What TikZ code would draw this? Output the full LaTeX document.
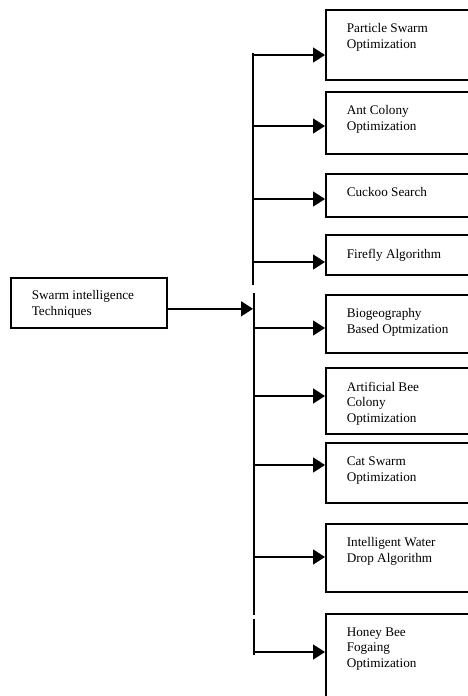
\documentclass[tikz,border=0pt]{standalone}
\usepackage{fontspec}
\setmainfont{Liberation Serif}
\usetikzlibrary{arrows.meta,positioning}
\begin{document}
\begin{tikzpicture}[x=1pt, y=-1pt, line width=1.6pt]
    \tikzstyle{box}=[draw=black, rectangle, anchor=north west, inner sep=0pt]
    \tikzstyle{technique}=[box, minimum width=160pt]
    \tikzstyle{caption}=[anchor=north west, inner sep=0pt, align=left, font=\fontsize{13.2}{15.5}\selectfont]
    \tikzstyle{branch}=[-{Triangle[length=12pt,width=15pt]}]

    \useasboundingbox (0,0) rectangle (468,696);
    \clip (0,0) rectangle (468,696);

    % Draw the root node
    \node[box, minimum width=156pt, minimum height=50pt] (S) at (10,277) {};
    \node[caption, below right=13pt and 21pt of S.north west] (S-text) {Swarm intelligence\\Techniques};

    % Draw the trunk, broken in three pieces
    \coordinate (T-a) at (253,53);
    \coordinate (T-b) at (253,285);
    \coordinate (T-c) at (254,293);
    \coordinate (T-d) at (254,615);
    \coordinate (T-e) at (254,619);
    \coordinate (T-f) at (254,655);
    \draw (T-a) -- (T-b);
    \draw (T-c) -- (T-d);
    \draw (T-e) -- (T-f);
    \coordinate (S-out) at ([yshift=-6pt]S.east);
    \draw[branch] (S-out) -- (S-out -| T-b);

    % Draw the technique boxes and the arrows into them
    \foreach \name / \yt / \yb / \ay / \txt in {
        1/9/79/55/{Particle Swarm\\Optimization},
        2/91/153/126/{Ant Colony\\Optimization},
        3/173/216/199/{Cuckoo Search},
        4/234/274/262/{Firefly Algorithm},
        5/294/352/328/{Biogeography\\Based Optmization},
        6/367/433/396/{Artificial Bee\\Colony\\Optimization},
        7/442/502/465/{Cat Swarm\\Optimization},
        8/523/591/557/{Intelligent Water\\Drop Algorithm},
        9/613/720/652/{Honey Bee\\Fogaing\\Optimization}}
    {
        \node[technique, minimum height={(\yb-\yt)*1pt}] (B-\name) at (325,\yt) {};
        \node[caption, below right=14pt and 21pt of B-\name.north west] (B-\name-text) {\txt};
        \coordinate (A-\name) at (254,\ay);
        \draw[branch] (A-\name) -- (A-\name -| B-\name.west);
    }

\end{tikzpicture}
\end{document}
